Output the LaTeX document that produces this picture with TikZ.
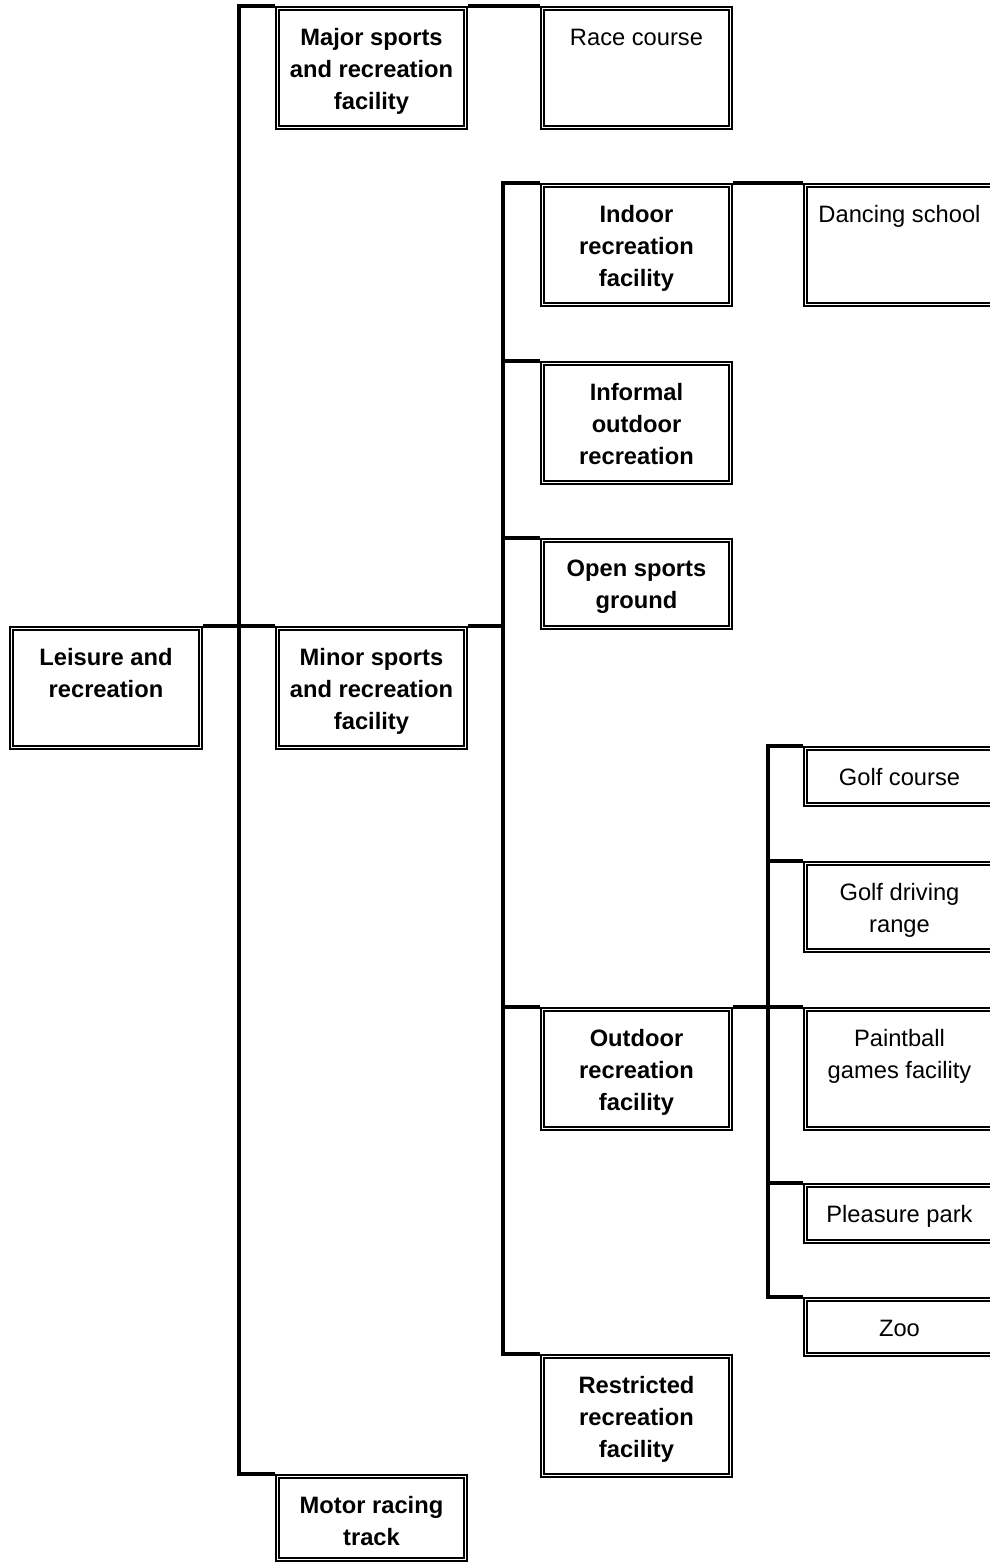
\documentclass[tikz,border=0pt]{standalone}
\usepackage{fontspec}
\setmainfont{Liberation Sans}
\begin{document}
\begin{tikzpicture}[x=1pt,y=-1pt,
  bx/.style={draw, double, line width=2pt, double distance=1.4pt, outer sep=2.7pt,
    inner sep=0pt, minimum width=187.6pt, minimum height={#1pt-5.4pt}},
  txt/.style={font=\fontsize{23.7}{32}\selectfont, align=center, anchor=north,
    inner sep=0pt, yshift=-22pt, execute at begin node=\strut},
  txtb/.style={txt, font=\bfseries\fontsize{23.7}{32}\selectfont},
  oneline/.style={yshift=5pt},
  conn/.style={line width=4pt, line join=miter}]
\useasboundingbox (0,0) rectangle (990,1564);
% boxes
\node[bx=124, minimum width=188.6pt] (leisure) at (106,688) {};
\node[bx=124] (major) at (371.5,68) {};
\node[bx=124] (race) at (636.5,68) {};
\node[bx=124] (minor) at (371.5,688) {};
\node[bx=88] (motor) at (371.5,1518) {};
\node[bx=124] (indoor) at (636.5,245) {};
\node[bx=124] (dancing) at (899.5,245) {};
\node[bx=124] (informal) at (636.5,423) {};
\node[bx=92] (open) at (636.5,584) {};
\node[bx=124] (outdoor) at (636.5,1069) {};
\node[bx=124] (restricted) at (636.5,1416) {};
\node[bx=61] (golf) at (899.5,776.5) {};
\node[bx=92] (driving) at (899.5,907) {};
\node[bx=124] (paintball) at (899.5,1069) {};
\node[bx=61] (pleasure) at (899.5,1213.5) {};
\node[bx=60] (zoo) at (899.5,1327) {};
% texts
\node[txtb] (leisuret) at (leisure.north) {Leisure and\\recreation};
\node[txtb] (majort) at (major.north) {Major sports\\and recreation\\facility};
\node[txt, oneline] (racet) at (race.north) {Race course};
\node[txtb] (minort) at (minor.north) {Minor sports\\and recreation\\facility};
\node[txtb] (motort) at (motor.north) {Motor racing\\track};
\node[txtb] (indoort) at (indoor.north) {Indoor\\recreation\\facility};
\node[txt, oneline] (dancingt) at (dancing.north) {Dancing school};
\node[txtb] (informalt) at (informal.north) {Informal\\outdoor\\recreation};
\node[txtb] (opent) at (open.north) {Open sports\\ground};
\node[txtb] (outdoort) at (outdoor.north) {Outdoor\\recreation\\facility};
\node[txtb] (restrictedt) at (restricted.north) {Restricted\\recreation\\facility};
\node[txt, oneline] (golft) at (golf.north) {Golf course};
\node[txt] (drivingt) at (driving.north) {Golf driving\\range};
\node[txt] (paintballt) at (paintball.north) {Paintball\\games facility};
\node[txt, oneline] (pleasuret) at (pleasure.north) {Pleasure park};
\node[txt, oneline] (zoot) at (zoo.north) {Zoo};
% trunks
\coordinate (t1) at (238.5,0);
\coordinate (t2) at (502.5,0);
\coordinate (t3) at (768,0);
% connectors
\draw[conn] (major.north west) -- (major.north west -| t1) -- (motor.north west -| t1) -- (motor.north west);
\draw[conn] (leisure.north east) -- (minor.north west);
\draw[conn] (major.north east) -- (race.north west);
\draw[conn] (minor.north east) -- (minor.north east -| t2);
\draw[conn] (indoor.north west) -- (indoor.north west -| t2) -- (restricted.north west -| t2) -- (restricted.north west);
\foreach \n in {informal,open,outdoor} \draw[conn] (t2 |- \n.north west) -- (\n.north west);
\draw[conn] (indoor.north east) -- (dancing.north west);
\draw[conn] (golf.north west) -- (golf.north west -| t3) -- (zoo.north west -| t3) -- (zoo.north west);
\draw[conn] (outdoor.north east) -- (paintball.north west);
\foreach \n in {driving,pleasure} \draw[conn] (t3 |- \n.north west) -- (\n.north west);
\end{tikzpicture}
\end{document}
